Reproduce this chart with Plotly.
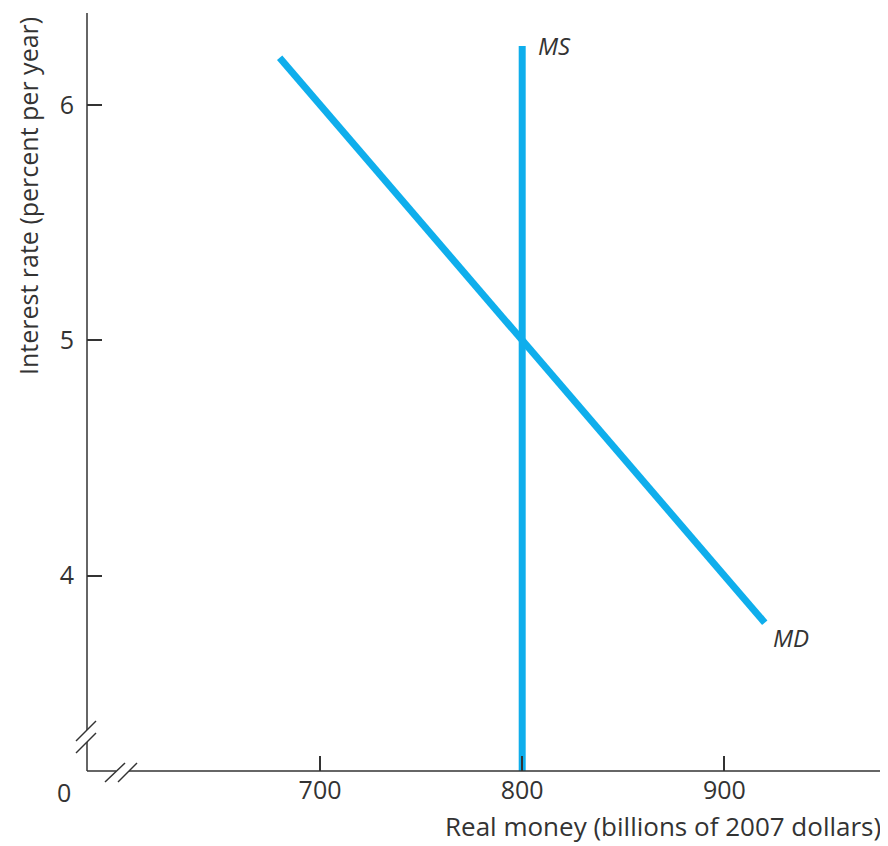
import plotly.graph_objects as go

# Data
md_x = [680, 920]
md_y = [6.2, 3.8]
ms_x = [800, 800]
ms_y = [3.17, 6.25]
x_ticks = [700, 800, 900]
y_ticks = [4, 5, 6]
x_range = [584.7, 978]
y_range = [3.17, 6.39]

# page body has an 8px margin; compensate so plot sits at screen coords
OFF = 8
W, H = 888 - OFF, 846 - OFF
L, R, T, B = 87 - OFF, 6, 13 - OFF, 75
PW, PH = W - L - R, H - T - B

def px(x):  # screen x -> paper
    return (x - 87) / PW

def py(y):  # screen y -> paper
    return (771 - y) / PH

blue = "#0FAEEC"
ink = "#333333"
font = "Open Sans"

fig = go.Figure()
fig.add_trace(go.Scatter(x=md_x, y=md_y, mode="lines",
                         line=dict(color=blue, width=7), showlegend=False))
fig.add_trace(go.Scatter(x=ms_x, y=ms_y, mode="lines",
                         line=dict(color=blue, width=7), showlegend=False))

axis_common = dict(showgrid=False, zeroline=False, showline=False,
                   ticks="inside", ticklen=15, tickwidth=1.5, tickcolor=ink,
                   tickfont=dict(family=font, size=25, color=ink))
fig.update_xaxes(range=x_range, tickvals=x_ticks, ticktext=[str(v) for v in x_ticks],
                 ticklabelstandoff=2, **axis_common)
fig.update_yaxes(range=y_range, tickvals=y_ticks, ticktext=[str(v) for v in y_ticks],
                 ticklabelstandoff=12, **axis_common)

line = dict(color=ink, width=1.5)
shapes = [
    # y axis with break
    dict(type="line", xref="paper", yref="paper", x0=0, x1=0, y0=py(730), y1=1, line=line),
    dict(type="line", xref="paper", yref="paper", x0=0, x1=0, y0=0, y1=py(742), line=line),
    dict(type="line", xref="paper", yref="paper", x0=px(76), x1=px(96), y0=py(741), y1=py(721), line=line),
    dict(type="line", xref="paper", yref="paper", x0=px(76), x1=px(96), y0=py(753), y1=py(733), line=line),
    # x axis with break
    dict(type="line", xref="paper", yref="paper", x0=0, x1=px(116), y0=0, y1=0, line=line),
    dict(type="line", xref="paper", yref="paper", x0=px(129), x1=1, y0=0, y1=0, line=line),
    dict(type="line", xref="paper", yref="paper", x0=px(105), x1=px(125), y0=py(782), y1=py(763), line=line),
    dict(type="line", xref="paper", yref="paper", x0=px(118), x1=px(137), y0=py(782), y1=py(763), line=line),
]

annotations = [
    dict(text="0", xref="paper", yref="paper", x=px(64), y=py(792), showarrow=False,
         xanchor="center", yanchor="middle",
         font=dict(family=font, size=25, color=ink)),
    dict(text="Interest rate (percent per year)", xref="paper", yref="paper",
         x=px(28), y=py(196), textangle=-90, showarrow=False,
         xanchor="center", yanchor="middle",
         font=dict(family=font, size=25, color=ink)),
    dict(text="Real money (billions of 2007 dollars)", xref="paper", yref="paper",
         x=px(883), y=py(826), xanchor="right", yanchor="middle", showarrow=False,
         font=dict(family=font, size=26, color=ink)),
    dict(text="<i>MS</i>", xref="paper", yref="paper", x=px(536), y=py(45),
         xanchor="left", yanchor="middle", showarrow=False,
         font=dict(family=font, size=24, color=ink)),
    dict(text="<i>MD</i>", xref="paper", yref="paper", x=px(771), y=py(637),
         xanchor="left", yanchor="middle", showarrow=False,
         font=dict(family=font, size=24, color=ink)),
]

fig.update_layout(width=W, height=H, margin=dict(l=L, r=R, t=T, b=B),
                  plot_bgcolor="white", paper_bgcolor="white",
                  shapes=shapes, annotations=annotations, showlegend=False)

fig.write_html("out.html")
